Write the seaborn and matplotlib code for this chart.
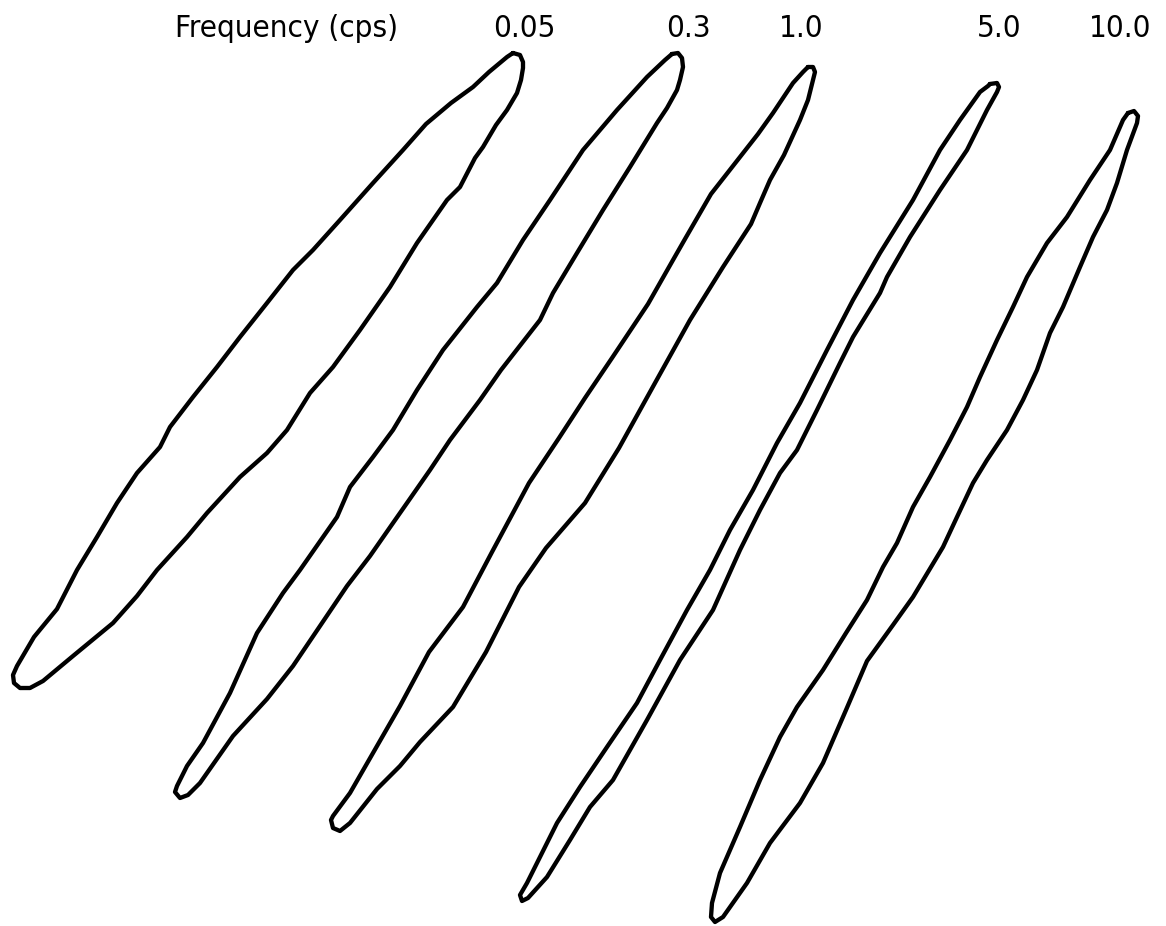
import numpy as np
import pandas as pd
import matplotlib
matplotlib.use("Agg")
import matplotlib.pyplot as plt
import seaborn as sns

# ---- data: outlines of the five loops (image pixel units) ----
frequencies = ["0.05", "0.3", "1.0", "5.0", "10.0"]
axis_title = "Frequency (cps)"

loop_005_x = [513, 520, 523, 523, 521, 517, 507, 496, 483, 475, 460, 447, 417, 390, 360, 333,
              310, 287, 267, 240, 207, 187, 157, 137, 113, 73, 43, 30, 20, 14, 13,
              17, 34, 57, 77, 97, 117, 137, 160, 170, 193, 217, 240, 267, 293, 313, 340, 373,
              403, 426, 451, 473, 489, 507, 513]
loop_005_y = [53, 55, 62, 68, 80, 93, 110, 125, 147, 158, 187, 200, 243, 287, 330, 367,
              393, 430, 453, 477, 513, 537, 570, 596, 623, 656, 681, 688, 688, 683, 675,
              666, 637, 609, 570, 537, 503, 473, 447, 427, 397, 367, 337, 303, 270, 250, 220, 183,
              150, 124, 103, 87, 72, 57, 53]

loop_03_x = [672, 678, 682, 683, 680, 677, 667, 657, 630, 603, 577, 553, 540, 501, 480, 450,
             430, 407, 393, 370, 347, 320, 293, 267, 233, 200, 188, 180, 175,
             177, 187, 203, 230, 257, 283, 300, 337, 350, 373, 393, 417, 443, 477, 497, 523,
             550, 583, 617, 647, 665, 672]
loop_03_y = [54, 53, 58, 67, 80, 90, 108, 123, 167, 210, 253, 293, 320, 370, 400, 440,
             470, 503, 523, 556, 586, 626, 666, 699, 736, 783, 795, 798, 792,
             786, 766, 743, 693, 633, 593, 570, 517, 487, 457, 430, 390, 350, 307, 283, 240,
             200, 150, 110, 77, 60, 54]

loop_10_x = [808, 813, 815, 813, 808, 800, 784, 770, 760, 751, 723, 690, 655, 619, 585, 546, 519,
             486, 453, 420, 400, 377, 350, 340, 333, 331, 333, 350, 373, 400, 429, 463, 492, 529,
             559, 585, 612, 648, 673, 685, 711, 758, 773, 793, 803, 808]
loop_10_y = [67, 67, 72, 80, 100, 120, 155, 180, 203, 224, 267, 320, 383, 448, 503, 548, 587,
             652, 707, 742, 766, 789, 823, 831, 828, 820, 816, 793, 753, 706, 652, 607, 552, 483,
             438, 398, 358, 304, 260, 239, 194, 134, 113, 83, 72, 67]

loop_50_x = [990, 997, 999, 997, 987, 967, 940, 910, 887, 880, 853, 840, 817, 797, 780, 760, 740,
             713, 680, 647, 613, 590, 570, 547, 528, 522, 520,
             527, 540, 557, 580, 607, 637, 660, 687, 710, 730, 753, 777, 800, 827, 853, 880,
             913, 940, 960, 980, 988, 990]
loop_50_y = [84, 83, 87, 92, 110, 150, 190, 237, 277, 293, 337, 363, 410, 450, 473, 510, 550,
             610, 660, 720, 780, 807, 840, 877, 898, 901, 895,
             883, 857, 823, 787, 747, 703, 660, 610, 570, 530, 490, 443, 403, 350, 300, 253,
             200, 150, 120, 92, 86, 84]

loop_100_x = [1128, 1134, 1138, 1137, 1127, 1117, 1107, 1093, 1080, 1063, 1050, 1037, 1023, 1007,
              987, 973, 957, 943, 913, 893, 867, 846, 823, 800, 770, 747, 723, 715, 711,
              712, 720, 740, 760, 780, 797, 823, 846, 867, 883, 897, 913, 930, 950, 967, 980,
              997, 1013, 1027, 1047, 1067, 1090, 1110, 1123, 1128]
loop_100_y = [113, 111, 116, 123, 150, 183, 210, 237, 267, 307, 333, 370, 400, 430,
              460, 483, 517, 547, 597, 625, 661, 710, 763, 803, 843, 883, 917, 922, 917,
              903, 873, 827, 780, 737, 707, 670, 633, 600, 567, 543, 507, 477, 440, 407, 377,
              340, 307, 277, 243, 217, 180, 150, 120, 113]

loops = [
    (loop_005_x, loop_005_y),
    (loop_03_x, loop_03_y),
    (loop_10_x, loop_10_y),
    (loop_50_x, loop_50_y),
    (loop_100_x, loop_100_y),
]

# ---- layout (label anchor positions, image pixel units) ----
title_x, label_baseline = 287, 37
label_x = [524, 688, 801, 999, 1120]

W, H = 1166, 926
sns.set_theme(style="white")
plt.rcParams["font.family"] = ["DejaVu Sans"]

fig = plt.figure(figsize=(W / 100, H / 100), dpi=100)
ax = fig.add_axes([0, 0, 1, 1])

frames = []
for i, (xs, ys) in enumerate(loops):
    frames.append(pd.DataFrame({"x": xs, "y": ys, "loop": frequencies[i]}))
df = pd.concat(frames, ignore_index=True)

for name, sub in df.groupby("loop", sort=False):
    sns.lineplot(data=sub, x="x", y="y", sort=False, estimator=None, ax=ax,
                 color="black", linewidth=3.1, solid_joinstyle="round",
                 solid_capstyle="round", legend=False)

ax.set_xlim(0, W)
ax.set_ylim(H, 0)
ax.set_axis_off()

txt_kw = dict(fontsize=22.5, color="black", ha="center", va="baseline",
              fontstretch="condensed", family=["DejaVu Sans"])
ax.text(title_x, label_baseline, axis_title, **txt_kw)
for lx, lab in zip(label_x, frequencies):
    ax.text(lx, label_baseline, lab, **txt_kw)

fig.savefig("out.png", dpi=100, facecolor="white")
